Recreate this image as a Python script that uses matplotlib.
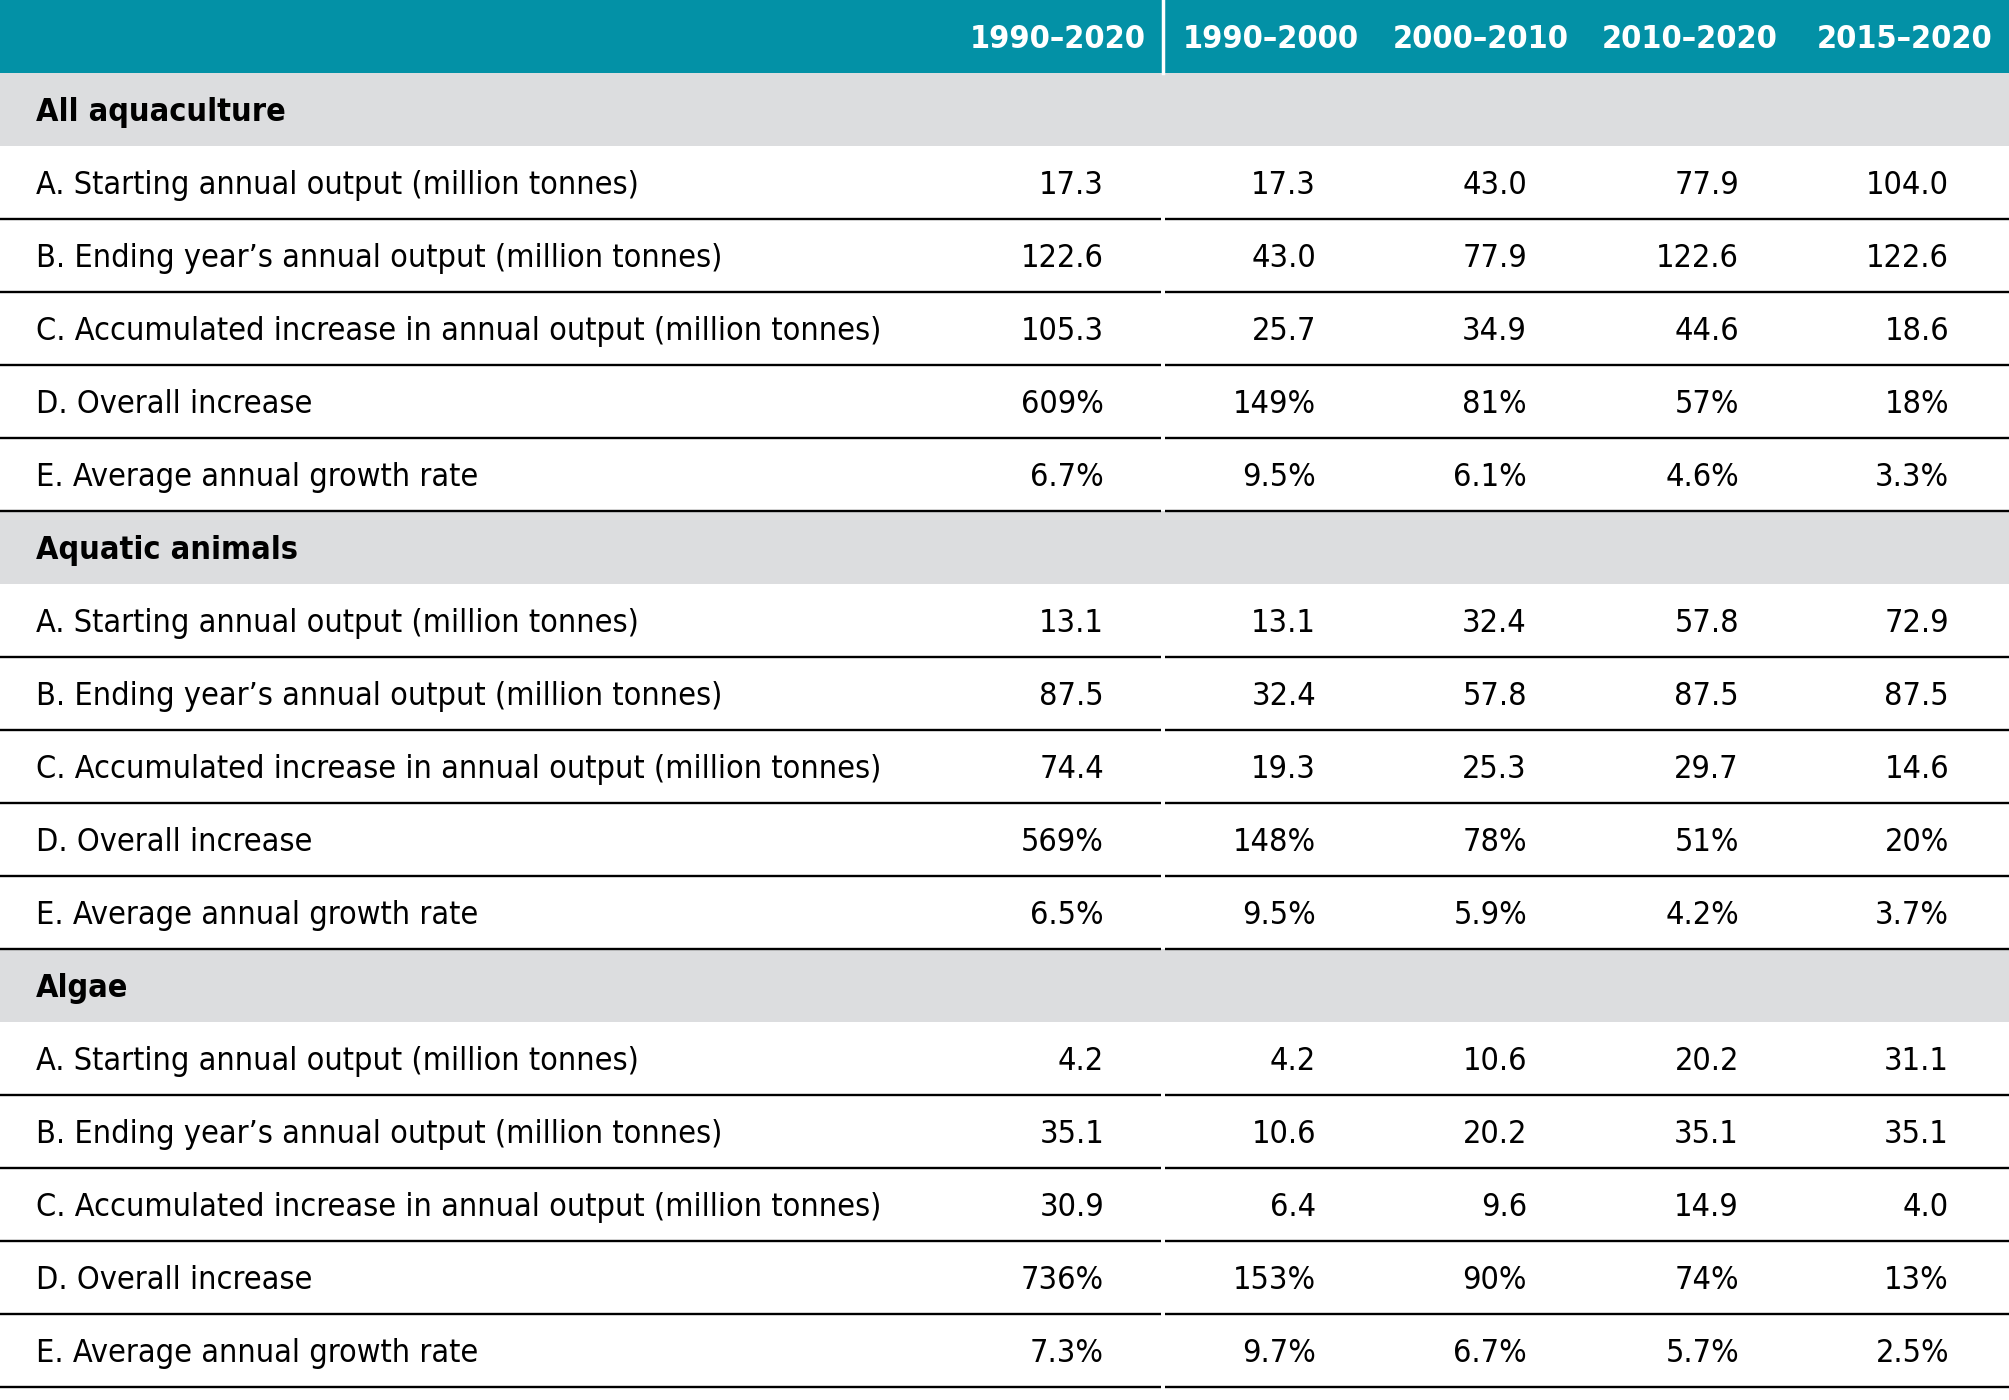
import matplotlib.pyplot as plt
from matplotlib.patches import Rectangle

plt.rcParams["font.family"] = ["DejaVu Sans"]
plt.rcParams["font.stretch"] = "condensed"

periods = ["1990\u20132020", "1990\u20132000", "2000\u20132010", "2010\u20132020", "2015\u20132020"]
sections = ["All aquaculture", "Aquatic animals", "Algae"]
row_labels = [
    "A. Starting annual output (million tonnes)",
    "B. Ending year\u2019s annual output (million tonnes)",
    "C. Accumulated increase in annual output (million tonnes)",
    "D. Overall increase",
    "E. Average annual growth rate",
]

all_aquaculture = [
    [17.3, 17.3, 43.0, 77.9, 104.0],
    [122.6, 43.0, 77.9, 122.6, 122.6],
    [105.3, 25.7, 34.9, 44.6, 18.6],
    [609, 149, 81, 57, 18],
    [6.7, 9.5, 6.1, 4.6, 3.3],
]
aquatic_animals = [
    [13.1, 13.1, 32.4, 57.8, 72.9],
    [87.5, 32.4, 57.8, 87.5, 87.5],
    [74.4, 19.3, 25.3, 29.7, 14.6],
    [569, 148, 78, 51, 20],
    [6.5, 9.5, 5.9, 4.2, 3.7],
]
algae = [
    [4.2, 4.2, 10.6, 20.2, 31.1],
    [35.1, 10.6, 20.2, 35.1, 35.1],
    [30.9, 6.4, 9.6, 14.9, 4.0],
    [736, 153, 90, 74, 13],
    [7.3, 9.7, 6.7, 5.7, 2.5],
]
formats = ["{:.1f}", "{:.1f}", "{:.1f}", "{:.0f}%", "{:.1f}%"]

# layout (pixels)
W, H = 2009, 1400
row_h = 73.0
label_x = 36
col_right = [1104, 1316, 1527, 1739, 1949]
col_center = [1058, 1271, 1481, 1690, 1905]
col_edges = [1163, 1375, 1586, 1796]
teal = "#0391A6"
grey = "#DCDDDF"
fs = 23.2
dy = 3

fig = plt.figure(figsize=(W / 100, H / 100), dpi=100)
ax = fig.add_axes([0, 0, 1, 1])
ax.set_xlim(0, W)
ax.set_ylim(H, 0)
ax.axis("off")

# header
ax.add_patch(Rectangle((0, 0), W, row_h, color=teal, lw=0))
ax.plot([col_edges[0], col_edges[0]], [0, row_h], color="white", lw=2.5)
for cx, p in zip(col_center, periods):
    ax.text(cx, row_h / 2 + dy, p, color="white", fontsize=fs, fontweight="bold",
            ha="center", va="center")

y = row_h
for name, block in zip(sections, [all_aquaculture, aquatic_animals, algae]):
    ax.add_patch(Rectangle((0, y), W, row_h, color=grey, lw=0))
    ax.text(label_x, y + row_h / 2 + dy, name, fontsize=fs, fontweight="bold",
            ha="left", va="center")
    y += row_h
    for label, vals, fmt in zip(row_labels, block, formats):
        ax.text(label_x, y + row_h / 2 + dy, label, fontsize=fs, ha="left", va="center")
        for rx, v in zip(col_right, vals):
            ax.text(rx, y + row_h / 2 + dy, fmt.format(v), fontsize=fs,
                    ha="right", va="center")
        y += row_h
        # bottom rule with small gap at the first column divider
        ax.plot([0, col_edges[0] - 2], [y, y], color="black", lw=1.7,
                solid_capstyle="butt")
        ax.plot([col_edges[0] + 2, W], [y, y], color="black", lw=1.7,
                solid_capstyle="butt")

fig.savefig("out.png", dpi=100)
